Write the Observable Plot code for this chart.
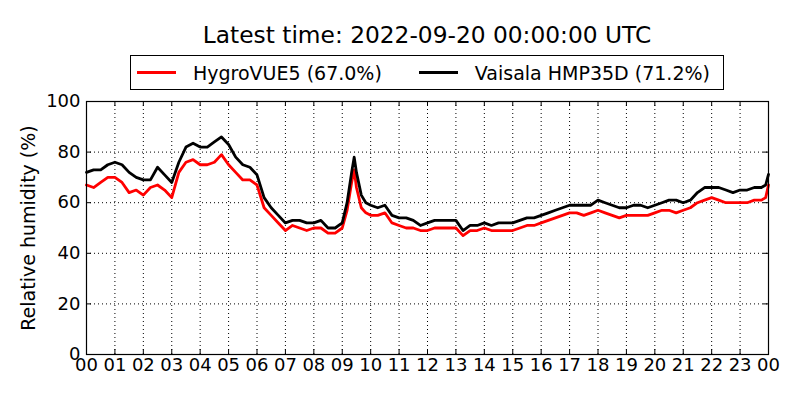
<!DOCTYPE html>
<html>
<head>
<meta charset="utf-8">
<script src="https://cdn.jsdelivr.net/npm/d3@7"></script>
<script src="https://cdn.jsdelivr.net/npm/@observablehq/plot@0.6"></script>
<style>
  html, body { margin: 0; padding: 0; background: #fff; }
  body { width: 800px; height: 400px; overflow: hidden; font-family: "DejaVu Sans", sans-serif; }
  #title { height: 55px; box-sizing: border-box; padding-top: 21px; padding-left: 86px; width: 768px;
           text-align: center; font-size: 23.3px; line-height: 28px; color: #000; }
  #legend { margin-left: 130px; width: 594px; height: 35px; box-sizing: border-box; border: 1px solid #000;
            display: flex; align-items: center; font-size: 19px; color: #000; }
  .item { display: flex; align-items: center; }
  .swatch { width: 39px; height: 0; border-top: 3px solid; margin-right: 17px; }
</style>
</head>
<body>
<div id="title"></div>
<div id="legend"></div>
<div id="chart"></div>
<script>
const titleText = "Latest time: 2022-09-20 00:00:00 UTC";
const seriesNames = ["HygroVUE5", "Vaisala HMP35D"];
const seriesColors = ["#ff0000", "#000000"];
const yTicks = [0, 20, 40, 60, 80, 100];
const xTicks = d3.range(0, 25);
const xTickLabels = ["00","01","02","03","04","05","06","07","08","09","10","11","12","13","14","15","16","17","18","19","20","21","22","23","00"];
const yLabel = "Relative humidity (%)";

const hours = [
  0,0.25,0.5,0.75,1,1.25,1.5,1.75,2,2.25,2.5,2.75,3,3.25,3.5,3.75,4,4.25,4.5,4.75,
  5,5.25,5.5,5.75,6,6.25,6.5,6.75,7,7.25,7.5,7.75,8,8.25,8.5,8.75,9,
  9.17,9.33,9.42,9.5,9.67,9.83,
  10,10.25,10.5,10.75,11,11.25,11.5,11.75,12,12.25,12.5,12.75,13,13.25,13.5,13.75,
  14,14.25,14.5,14.75,15,15.25,15.5,15.75,16,16.25,16.5,16.75,17,17.25,17.5,17.75,
  18,18.25,18.5,18.75,19,19.25,19.5,19.75,20,20.25,20.5,20.75,21,21.25,21.5,21.75,
  22,22.25,22.5,22.75,23,23.25,23.5,23.75,23.9,24
];
const hmp35d = [
  72,73,73,75,76,75,72,70,69,69,74,71,68,76,82,83.5,82,82,84,86,
  83,78,75,74,71,62,58,55,52,53,53,52,52,53,50,50,52,
  60,72,78,72,63,60,
  59,58,59,55,54,54,53,51,52,53,53,53,53,49,51,51,
  52,51,52,52,52,53,54,54,55,56,57,58,59,59,59,59,
  61,60,59,58,58,59,59,58,59,60,61,61,60,61,64,66,
  66,66,65,64,65,65,66,66,67,71.2
];
const hygrovue5 = [
  67,66,68,70,70,68,64,65,63,66,67,65,62,72,76,77,75,75,76,79,
  75,72,69,69,67,58,55,52,49,51,50,49,50,50,48,48,50,
  57,68,73,66,58,56,
  55,55,56,52,51,50,50,49,49,50,50,50,50,47,49,49,
  50,49,49,49,49,50,51,51,52,53,54,55,56,56,55,56,
  57,56,55,54,55,55,55,55,56,57,57,56,57,58,60,61,
  62,61,60,60,60,60,61,61,62,67.0
];

const rows = [];
hours.forEach((h, i) => {
  rows.push({hour: h, rh: hygrovue5[i], series: seriesNames[0]});
  rows.push({hour: h, rh: hmp35d[i], series: seriesNames[1]});
});

document.getElementById("title").textContent = titleText;
const lastValues = [hygrovue5[hygrovue5.length - 1], hmp35d[hmp35d.length - 1]];
const legend = document.getElementById("legend");
seriesNames.forEach((name, i) => {
  const item = document.createElement("div");
  item.className = "item";
  item.style.marginLeft = i === 0 ? "6px" : "37px";
  const sw = document.createElement("div");
  sw.className = "swatch";
  sw.style.borderTopColor = seriesColors[i];
  const label = document.createElement("span");
  label.textContent = `${name} (${lastValues[i].toFixed(1)}%)`;
  item.append(sw, label);
  legend.append(item);
});

const tickLenX = 5 / 253 * 100;   // ~5px in y data units
const tickLenY = 5 / 682 * 24;    // ~5px in x data units

const chart = Plot.plot({
  width: 800,
  height: 310,
  marginTop: 11,
  marginBottom: 46,
  marginLeft: 86,
  marginRight: 32,
  style: {fontFamily: "DejaVu Sans, sans-serif", fontSize: "18px", color: "#000", background: "#fff", overflow: "visible"},
  x: {domain: [0, 24]},
  y: {domain: [0, 100]},
  marks: [
    Plot.gridX(xTicks.slice(1, -1), {stroke: "#000", strokeOpacity: 1, strokeWidth: 1, strokeDasharray: "1,3"}),
    Plot.gridY(yTicks.slice(1, -1), {stroke: "#000", strokeOpacity: 1, strokeWidth: 1, strokeDasharray: "1,3"}),
    Plot.line(rows, {x: "hour", y: "rh", z: "series", stroke: "series", strokeWidth: 2.8, strokeLinejoin: "round"}),
    Plot.ruleX(xTicks, {y1: 0, y2: tickLenX, stroke: "#000"}),
    Plot.ruleX(xTicks, {y1: 100 - tickLenX, y2: 100, stroke: "#000"}),
    Plot.ruleY(yTicks, {x1: 0, x2: tickLenY, stroke: "#000"}),
    Plot.ruleY(yTicks, {x1: 24 - tickLenY, x2: 24, stroke: "#000"}),
    Plot.frame({stroke: "#000", strokeWidth: 1.2}),
    Plot.axisX(xTicks, {tickSize: 0, tickPadding: 4, tickFormat: (d, i) => xTickLabels[i], label: null, fontSize: 18}),
    Plot.axisY(yTicks, {tickSize: 0, tickPadding: 6, label: null, fontSize: 18}),
    Plot.text([yLabel], {frameAnchor: "left", dx: -58, rotate: -90, textAnchor: "middle", fontSize: 19, text: d => d})
  ],
  color: {domain: seriesNames, range: seriesColors}
});
document.getElementById("chart").append(chart);
</script>
</body>
</html>
